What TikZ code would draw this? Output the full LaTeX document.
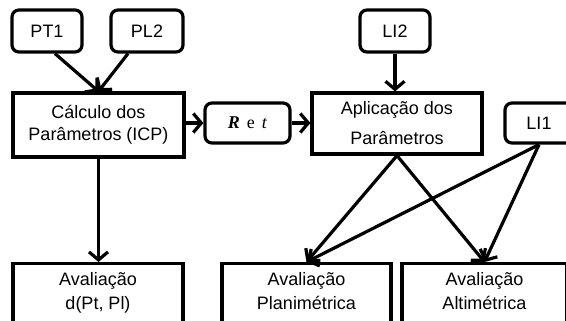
\documentclass[tikz,border=0pt]{standalone}
\usepackage{fontspec}
\setmainfont{Liberation Sans}
\newfontfamily\retfont{Liberation Serif}
\usetikzlibrary{arrows.meta,positioning}

\begin{document}
\begin{tikzpicture}[x=1pt,y=-1pt,line width=3.2pt,
  every node/.style={font=\fontsize{18}{22}\selectfont},
  src/.style={draw,rounded corners=7pt,minimum height=42pt,inner sep=0pt},
  proc/.style={draw,align=center,inner sep=0pt},
  evalbox/.style={draw,anchor=north,minimum height=100pt,inner sep=0pt},
  evaltext/.style={align=center,inner sep=0pt,font=\fontsize{18}{24}\selectfont},
  arr/.style={-{Straight Barb[length=8pt,width=19pt,line width=3.2pt]}}]
  \useasboundingbox (0,0) rectangle (566,321);
  \clip (0,0) rectangle (566,321);
  % inputs and processing
  \node[src,minimum width=70pt] (pt1) at (47,31) {PT1};
  \node[src,minimum width=72pt] (pl2) at (147,31) {PL2};
  \node[src,minimum width=70pt] (li2) at (395,31) {LI2};
  \node[proc,minimum width=171pt,minimum height=64pt] (calc) at (98.5,125) {Cálculo dos\\Parâmetros (ICP)};
  \node[src,minimum width=85pt,minimum height=40pt] (ret) at (247.5,123) {\retfont\textbf{\textit{R}}\hspace{7pt}e\hspace{7pt}\textit{t}};
  \node[proc,minimum width=170pt,minimum height=61pt,font=\fontsize{18}{30}\selectfont] (apl) at (397,123.5) {Aplicação dos\\Parâmetros};
  \node[src,minimum width=68pt,minimum height=40pt] (li1) at (539,123) {LI1};
  % evaluations
  \node[evalbox,minimum width=170pt] (avd) at (98,262) {};
  \node[evaltext,below=9pt of avd.north] (avdt) {Avaliação\\d(Pt, Pl)};
  \node[evalbox,minimum width=169pt] (plan) at (306.5,262) {};
  \node[evaltext,below=9pt of plan.north] (plant) {Avaliação\\Planimétrica};
  \node[evalbox,minimum width=165pt] (alt) at (484.5,262) {};
  \node[evaltext,below=9pt of alt.north] (altt) {Avaliação\\Altimétrica};
  % connectors
  \draw[arr] ([xshift=8pt]pt1.south) -- (calc.north);
  \draw[arr] ([xshift=-19pt]pl2.south) -- (calc.north);
  \draw[arr] (calc.south) -- (calc.south |- avd.north);
  \draw[arr] (calc.east |- ret) -- (ret.west);
  \draw[arr] (ret.east) -- (ret.east -| apl.west);
  \draw[arr] (li2.south) -- (li2.south |- apl.north);
  \draw[arr] (apl.south) -- (plan.north);
  \draw[arr] (apl.south) -- (alt.north);
  \draw[arr] (li1.south) -- (plan.north);
  \draw[arr] (li1.south) -- (alt.north);
\end{tikzpicture}
\end{document}
